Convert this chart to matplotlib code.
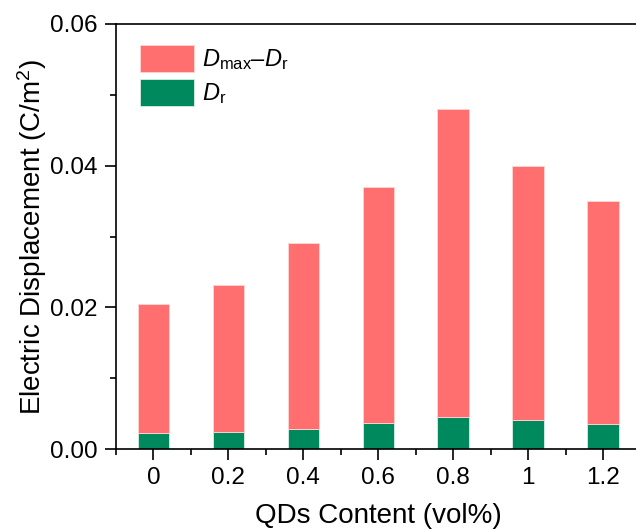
import matplotlib
matplotlib.use("Agg")
import matplotlib.pyplot as plt
from matplotlib.ticker import MultipleLocator

plt.rcParams['font.family'] = ['Liberation Sans', 'DejaVu Sans']
plt.rcParams['mathtext.fontset'] = 'custom'
plt.rcParams['mathtext.rm'] = 'Liberation Sans'
plt.rcParams['mathtext.it'] = 'Liberation Sans:italic'

content = [0, 0.2, 0.4, 0.6, 0.8, 1.0, 1.2]
tick_labels = ['0', '0.2', '0.4', '0.6', '0.8', '1', '1.2']
d_max = [0.0205, 0.0231, 0.0291, 0.0370, 0.0480, 0.0400, 0.0350]
d_r = [0.0023, 0.0024, 0.0028, 0.0037, 0.0045, 0.0041, 0.0036]
d_diff = [m - r for m, r in zip(d_max, d_r)]

red = '#FF6F6F'
green = '#00895C'

fig = plt.figure(figsize=(6.36, 5.29), dpi=100)
ax = fig.add_axes([116/636, 80/529, 524.5/636, 425/529])

w = 0.084
ax.bar(content, d_r, width=w, color=green, edgecolor='#d8efe5', linewidth=0.6,
       label=r'$\mathit{D}_{\rm r}$', zorder=2)
ax.bar(content, d_diff, bottom=d_r, width=w, color=red, edgecolor='#ffd6d6',
       linewidth=0.6, label=r'$\mathit{D}_{\rm max}$–$\mathit{D}_{\rm r}$', zorder=2)

ax.set_xlim(-0.1, 1.3)
ax.set_ylim(0, 0.06)
ax.set_xticks(content)
ax.set_xticklabels(tick_labels)
ax.set_yticks([0, 0.02, 0.04, 0.06])
ax.set_yticklabels(['0.00', '0.02', '0.04', '0.06'])
ax.xaxis.set_minor_locator(MultipleLocator(0.1))
ax.yaxis.set_minor_locator(MultipleLocator(0.01))
ax.tick_params(which='major', direction='out', length=8, width=1.2, labelsize=17.5,
               top=False, right=False, pad=5)
ax.tick_params(which='minor', direction='out', length=4, width=1.2, top=False, right=False)
for s in ax.spines.values():
    s.set_linewidth(1.2)

ax.set_xlabel('QDs Content (vol%)', fontsize=20, labelpad=10)
ax.set_ylabel('Electric Displacement (C/m$^2$)', fontsize=20, labelpad=1)

handles, labels = ax.get_legend_handles_labels()
ax.legend(handles[::-1], labels[::-1], loc='upper left', frameon=False, fontsize=17,
          handlelength=2.3, handleheight=1.35, handletextpad=0.3, labelspacing=0.3,
          borderaxespad=0.0, bbox_to_anchor=(0.028, 0.972))

fig.savefig('out.png', dpi=100)
